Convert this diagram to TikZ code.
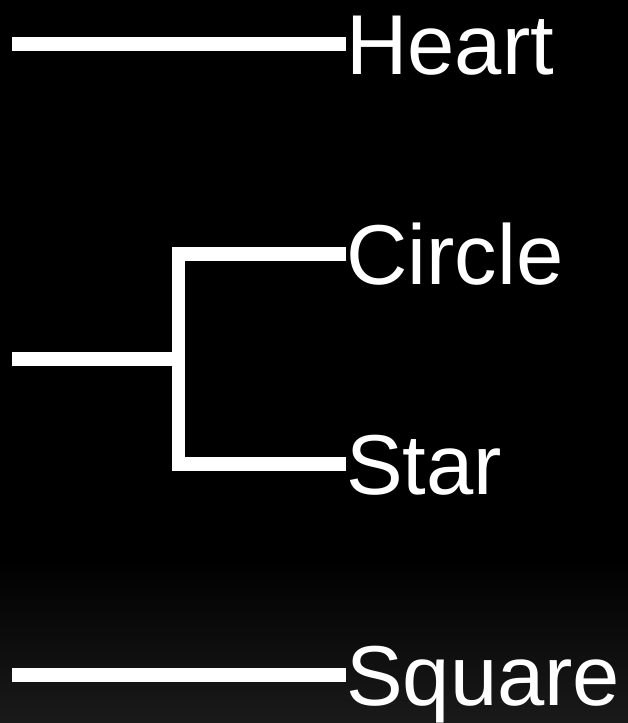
\documentclass[tikz,border=0pt]{standalone}
\usepackage{fontspec}
\setmainfont{Liberation Sans}
\usepackage{tikz}
\usetikzlibrary{positioning, calc}
\definecolor{cBack}{RGB}{0,0,0}
\definecolor{cFloor}{RGB}{26,26,26}
\tikzset{
	leaf/.style  ={anchor=west, inner sep=0pt, text height=61pt, text depth=0pt, text=white, font=\fontsize{85}{100}\selectfont},
	branch/.style={draw=white, line width=13.5pt, line join=miter},
}
\begin{document}
\begin{tikzpicture}[x=1pt, y=-1pt]
	% background, darkening towards the top
	\fill[cBack] (0,0) rectangle (628,723);
	\shade[top color=cBack, bottom color=cFloor] (0,560) rectangle (628,723);
	\useasboundingbox (0,0) rectangle (628,723);
	% labels
	\node[leaf] (heart) at (346,44) {Heart};
	\node[leaf] (circ) at (346,254) {Circle};
	\node[leaf] (star) at (346,464) {Star};
	\node[leaf] (sq) at (346,675) {Square};
	% roots and the fork
	\coordinate (rh) at (12,44);
	\coordinate (rc) at (12,359);
	\coordinate (rs) at (12,675);
	\coordinate (fork) at (178.5,359);
	\draw[branch] (rh) -- (heart.west);
	\draw[branch] (rs) -- (sq.west);
	\draw[branch] (rc) -- (fork);
	\draw[branch] (circ.west) -- (fork |- circ.west) -- (fork |- star.west) -- (star.west);
\end{tikzpicture}
\end{document}
